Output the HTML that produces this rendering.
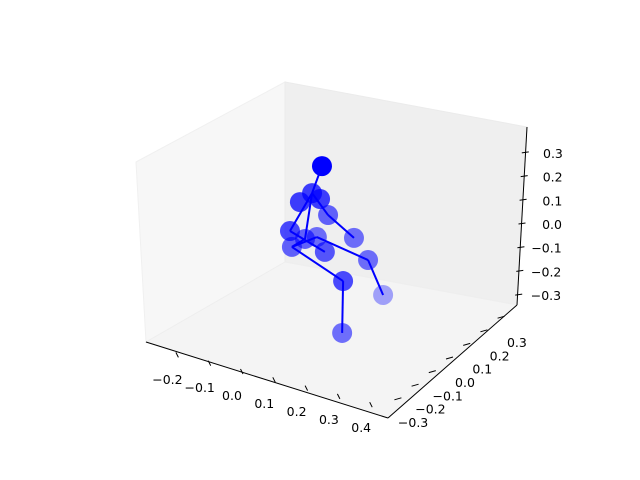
<!DOCTYPE html>
<html><head><meta charset="utf-8"><style>
html,body{margin:0;padding:0;background:#fff;}
svg{display:block;font-family:"DejaVu Sans","Liberation Sans",sans-serif;}
</style></head><body>
<svg id="chart" width="640" height="480" viewBox="0 0 640 480" xmlns="http://www.w3.org/2000/svg">
<rect width="640" height="480" fill="#fff"/>
<polygon points="136,162 285,82 285,262 146,342" fill="#f7f7f7" stroke="#f0f0f0"/>
<polygon points="285,82 527,127 517,305 285,262" fill="#efefef" stroke="#ebebeb"/>
<polygon points="146,342 285,262 517,305 388,418" fill="#f4f4f4" stroke="#eeeeee"/>
<line x1="146" y1="342" x2="388" y2="418" stroke="#000" stroke-width="1"/>
<line x1="388" y1="418" x2="517" y2="305" stroke="#000" stroke-width="1"/>
<line x1="517" y1="305" x2="527" y2="127" stroke="#000" stroke-width="1"/>
<g id="ticks"></g>
<g id="bones"></g>
<g id="joints"></g>
</svg>
<script>
// joint data (x, y, z)
const jointX = [0.064, 0.033, -0.005, 0.058, 0.083, 0.164, -0.036, 0.073, -0.030, 0.011, 0.048, 0.208, 0.255, 0.130, 0.127];
const jointY = [0, 0, 0, 0, 0, 0, 0, 0, 0, 0, 0, 0, 0, 0, 0];
const jointZ = [0.336, 0.211, 0.160, 0.195, 0.136, 0.068, 0.027, -0.023, -0.038, 0.010, 0.031, -0.010, -0.141, -0.126, -0.346];
const jointAlpha = [1, 0.75, 0.75, 0.75, 0.6, 0.55, 0.7, 0.65, 0.6, 0.6, 0.55, 0.55, 0.35, 0.7, 0.55];
const boneFrom = [0, 1, 4, 1, 6, 1, 9, 8, 10, 11, 8, 13];
const boneTo   = [1, 4, 5, 6, 7, 9, 8, 10, 11, 12, 13, 14];
const xTicks = [-0.2, -0.1, 0.0, 0.1, 0.2, 0.3, 0.4];
const yTicks = [-0.3, -0.2, -0.1, 0.0, 0.1, 0.2, 0.3];
const zTicks = [-0.3, -0.2, -0.1, 0.0, 0.1, 0.2, 0.3];

const NS = "http://www.w3.org/2000/svg";
function proj(x, y, z) { return [301.5 + 320 * x + 175 * y, 240.4 + 83 * x - 135 * y - 237 * z]; }
function fmt(v) { return (v < 0 ? "\u2212" : "") + Math.abs(v).toFixed(1); }
function mk(tag, attrs, parent) { const e = document.createElementNS(NS, tag); for (const k in attrs) e.setAttribute(k, attrs[k]); parent.appendChild(e); return e; }

const tg = document.getElementById('ticks');
xTicks.forEach(v => {
  const tx = 242 + v * 323, ty = 372 + v * 83;
  const t = mk('line', {x1: tx - 1.5, y1: ty - 3, x2: tx + 1, y2: ty + 2, stroke: '#000'}, tg);
  
  
  const l = mk('text', {x: 232 + v * 323, y: 400 + v * 80, 'font-size': 12.5, 'text-anchor': 'middle'}, tg);
  l.textContent = fmt(v);
  
  
});
yTicks.forEach(v => {
  const tx = 450 + v * 172, ty = 358 - v * 136;
  const t = mk('line', {x1: tx - 4, y1: ty + 1, x2: tx + 3, y2: ty - 1, stroke: '#000'}, tg);
  
  
  const l = mk('text', {x: 465 + v * 173, y: 387 - v * 133, 'font-size': 12.5, 'text-anchor': 'middle'}, tg);
  l.textContent = fmt(v);
  
  
});
zTicks.forEach(v => {
  const ty = 224 - v * 237, tx = 521.5 + v * 11;
  const t = mk('line', {x1: tx - 3, y1: ty, x2: tx + 4, y2: ty - 1, stroke: '#000'}, tg);
  
  
  const l = mk('text', {x: 562 + v * 3, y: ty + 5, 'font-size': 12.5, 'text-anchor': 'end'}, tg);
  l.textContent = fmt(v);
  
  
});

const bg = document.getElementById('bones');
boneFrom.forEach((a, i) => {
  const b = boneTo[i];
  const p = proj(jointX[a], jointY[a], jointZ[a]), q = proj(jointX[b], jointY[b], jointZ[b]);
  const ln = mk('line', {x1: p[0], y1: p[1], x2: q[0], y2: q[1], stroke: '#0000ff', 'stroke-width': 2}, bg);
  
  
});
const jg = document.getElementById('joints');
jointX.forEach((x, i) => {
  const p = proj(x, jointY[i], jointZ[i]);
  const c = mk('circle', {cx: p[0], cy: p[1], r: 10, fill: '#0000ff', 'fill-opacity': jointAlpha[i]}, jg);
  
  
});
</script>
</body></html>
